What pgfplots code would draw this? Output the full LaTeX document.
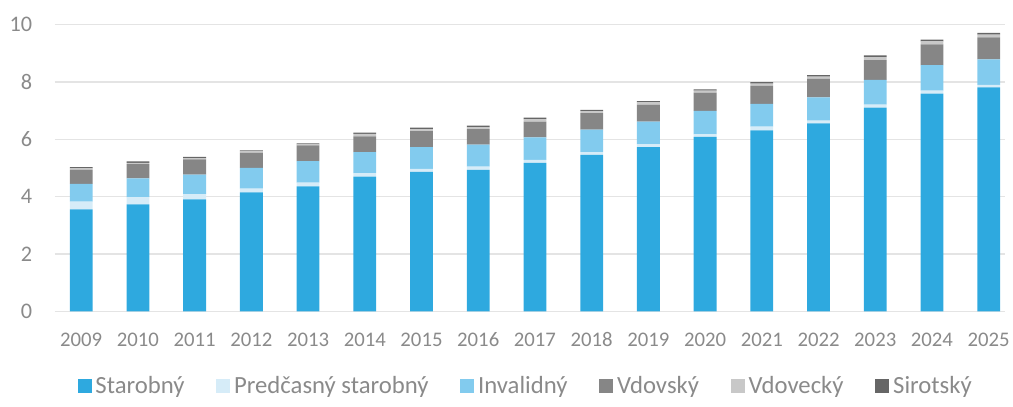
\documentclass[border=0pt]{standalone}
\usepackage{pgfplots}
\usepackage{pgfplotstable}
\pgfplotsset{compat=1.18}
\usepackage{fontspec}
\setmainfont{Carlito}
\definecolor{cStar}{HTML}{2EA9DF}
\definecolor{cPred}{HTML}{D6ECF8}
\definecolor{cInv}{HTML}{82CBEE}
\definecolor{cVdov}{HTML}{868686}
\definecolor{cVdovec}{HTML}{C8C8C8}
\definecolor{cSir}{HTML}{666666}
\definecolor{txt}{HTML}{8A8A8A}
\definecolor{grd}{HTML}{E4E4E4}
\pgfplotstableread{
x year Star Pred Inv Vdov Vdovec Sir
0 2009 3.56 0.27 0.62 0.49 0.05 0.04
1 2010 3.73 0.26 0.65 0.50 0.04 0.05
2 2011 3.91 0.18 0.68 0.53 0.05 0.04
3 2012 4.15 0.13 0.73 0.52 0.05 0.04
4 2013 4.36 0.13 0.75 0.55 0.04 0.03
5 2014 4.70 0.12 0.74 0.55 0.08 0.05
6 2015 4.87 0.10 0.76 0.56 0.07 0.05
7 2016 4.94 0.11 0.77 0.54 0.07 0.05
8 2017 5.18 0.11 0.78 0.55 0.09 0.05
9 2018 5.46 0.10 0.78 0.58 0.07 0.04
10 2019 5.73 0.10 0.79 0.59 0.08 0.05
11 2020 6.09 0.09 0.82 0.63 0.07 0.05
12 2021 6.32 0.13 0.79 0.63 0.08 0.05
13 2022 6.56 0.10 0.81 0.64 0.08 0.05
14 2023 7.11 0.10 0.87 0.69 0.10 0.06
15 2024 7.60 0.10 0.89 0.73 0.10 0.06
16 2025 7.82 0.08 0.89 0.77 0.10 0.06
}\data
\begin{document}
\begin{tikzpicture}
\path (-55bp,-96bp) rectangle (958bp,314bp);
\begin{axis}[
  at={(0,0)}, anchor=south west,
  scale only axis, width=958bp, height=289bp,
  ybar stacked, bar width=23bp,
  xmin=-0.47, xmax=16.28, ymin=0, ymax=10,
  xtick=data, xticklabels={2009,2010,2011,2012,2013,2014,2015,2016,2017,2018,2019,2020,2021,2022,2023,2024,2025},
  ytick={0,2,4,6,8,10},
  ymajorgrids, major grid style={draw=grd, line width=1.3bp},
  axis line style={draw=none}, tick style={draw=none},
  yticklabel style={font=\fontsize{22.5}{26}\selectfont, text=txt, anchor=east, xshift=-19bp},
  xticklabel style={font=\fontsize{21}{24}\selectfont, text=txt, anchor=north, text height=14bp, text depth=0bp, yshift=-18bp},
  /pgf/number format/assume math mode=true,
  legend columns=6,
  legend style={at={(0.497,0)}, anchor=center, yshift=-75bp, draw=none, fill=none,
     font=\fontsize{25}{28}\selectfont, text=txt,
     nodes={inner xsep=4bp},
     /tikz/every even column/.append style={column sep=28bp}},
  legend image code/.code={\fill[#1,draw=none] (0bp,-7bp) rectangle (14bp,7bp);},
]
\addplot[fill=cStar, draw=none] table[x=x,y=Star]{\data};
\addplot[fill=cPred, draw=none] table[x=x,y=Pred]{\data};
\addplot[fill=cInv, draw=none] table[x=x,y=Inv]{\data};
\addplot[fill=cVdov, draw=none] table[x=x,y=Vdov]{\data};
\addplot[fill=cVdovec, draw=none] table[x=x,y=Vdovec]{\data};
\addplot[fill=cSir, draw=none] table[x=x,y=Sir]{\data};
\legend{Starobný, Predčasný starobný, Invalidný, Vdovský, Vdovecký, Sirotský}
\end{axis}
\end{tikzpicture}
\end{document}
